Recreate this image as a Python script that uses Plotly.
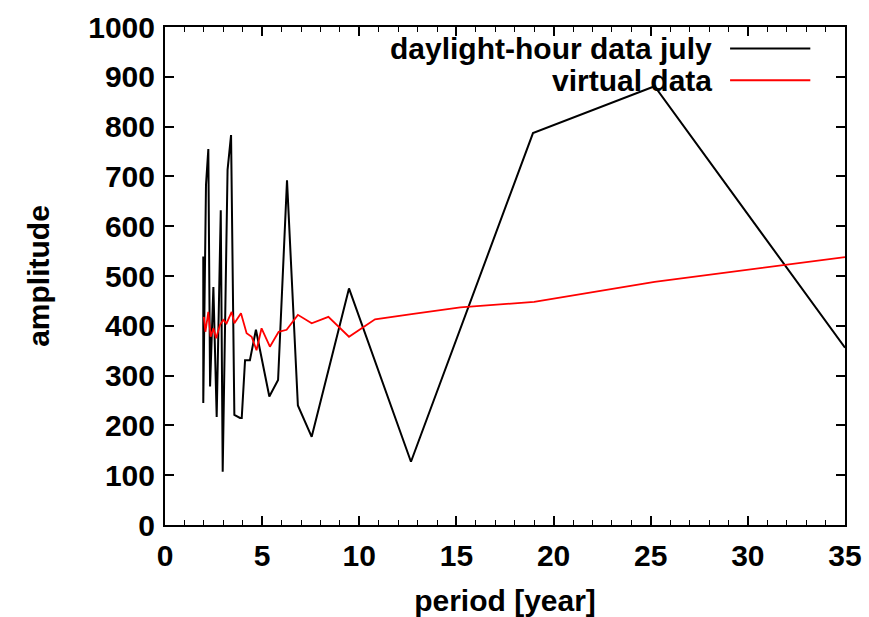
import plotly.graph_objects as go

# daylight-hour data july
black_x = [1.97, 1.97, 2.11, 2.23, 2.32, 2.49, 2.66, 2.87, 2.97, 3.22, 3.40, 3.57, 3.86, 3.95,
           4.12, 4.37, 4.68, 5.37, 5.82, 6.28, 6.84, 7.55, 9.47, 12.66, 18.94, 25.2, 35.0]
black_y = [539, 245, 683, 755, 278, 478, 217, 632, 107, 713, 783, 221, 215, 215,
           331, 331, 392, 258, 291, 692, 240, 177, 475, 127, 787, 881, 356]

# virtual data
red_x = [2.0, 2.08, 2.23, 2.35, 2.49, 2.63, 2.83, 3.0, 3.17, 3.43, 3.57, 3.91, 4.20, 4.46,
         4.71, 4.97, 5.40, 5.85, 6.26, 6.84, 7.55, 8.41, 9.47, 10.81, 12.78, 15.2, 19.0, 25.2, 35.0]
red_y = [418, 388, 428, 378, 395, 375, 402, 412, 405, 428, 405, 425, 385, 378,
         351, 395, 358, 388, 392, 422, 405, 418, 378, 413, 424, 437, 448, 488, 538]

x_ticks = [0, 5, 10, 15, 20, 25, 30, 35]
y_ticks = [0, 100, 200, 300, 400, 500, 600, 700, 800, 900, 1000]

legend_labels = ["daylight-hour data july", "virtual data"]
colors = ["#000000", "#ff0000"]

font_family = "Liberation Sans, Arial, sans-serif"
fs = 30

fig = go.Figure()
fig.add_trace(go.Scatter(x=black_x, y=black_y, mode="lines",
                         line=dict(color=colors[0], width=2), name=legend_labels[0],
                         showlegend=False))
fig.add_trace(go.Scatter(x=red_x, y=red_y, mode="lines",
                         line=dict(color=colors[1], width=1.8), name=legend_labels[1],
                         showlegend=False))

# gnuplot-style legend: right-aligned text then sample line
for i, (lab, col) in enumerate(zip(legend_labels, colors)):
    yp = 0.957 - i * 0.064
    fig.add_annotation(xref="paper", yref="paper", x=0.807, y=yp, text=lab,
                       showarrow=False, xanchor="right", yanchor="middle",
                       font=dict(family=font_family, size=fs, color="black", weight="bold"))
    fig.add_shape(type="line", xref="paper", yref="paper", x0=0.831, x1=0.949, y0=yp, y1=yp,
                  line=dict(color=col, width=2))

axis_common = dict(
    showline=True, linecolor="black", linewidth=2, mirror="allticks",
    ticks="inside", ticklen=9, tickwidth=1.6, tickcolor="black",
    showgrid=False, zeroline=False, automargin=False,
    tickfont=dict(family=font_family, size=fs, color="black", weight="bold"),
)

fig.update_xaxes(range=[0, 35], tickvals=x_ticks, ticktext=[str(v) for v in x_ticks],
                 minor=dict(dtick=1, ticks="inside", ticklen=5, tickwidth=1.4, tickcolor="black"),
                 ticklabelstandoff=3,
                 title=dict(text="period [year]", standoff=20,
                            font=dict(family=font_family, size=fs, color="black", weight="bold")),
                 **axis_common)
fig.update_yaxes(range=[0, 1000], tickvals=y_ticks, ticktext=[str(v) for v in y_ticks],
                 ticklabelstandoff=2,
                 title=dict(text="amplitude", standoff=30,
                            font=dict(family=font_family, size=fs, color="black", weight="bold")),
                 **axis_common)

fig.update_layout(width=869, height=617, margin=dict(l=165, r=24, t=27, b=92),
                  plot_bgcolor="white", paper_bgcolor="white")

fig.write_html("out.html")
